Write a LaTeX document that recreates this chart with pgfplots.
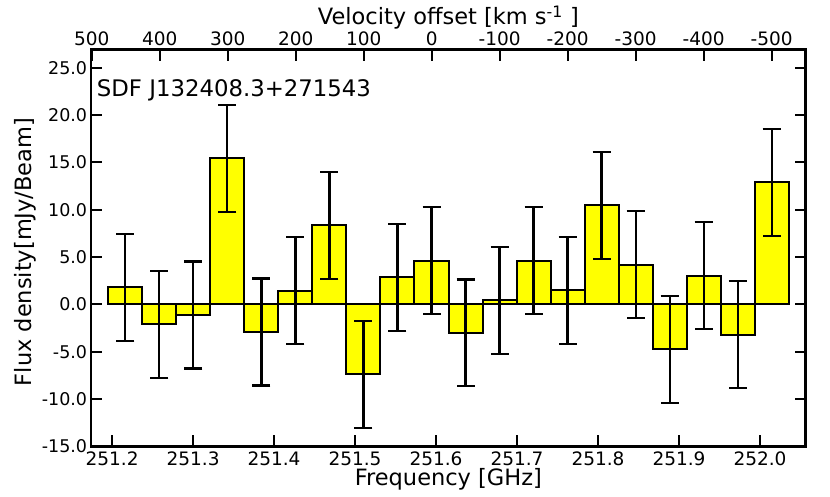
\documentclass[border=0pt]{standalone}
\usepackage{pgfplots}
\pgfplotsset{compat=1.18}
\usepackage{pgfplotstable}
\usepackage{fontspec}
\setmainfont{DejaVu Sans}
\definecolor{pureyellow}{RGB}{255,255,0}

\pgfplotstableread{
x y err
251.2164 1.81 5.65
251.2584 -2.11 5.65
251.3004 -1.12 5.65
251.3424 15.42 5.65
251.3844 -2.92 5.65
251.4264 1.43 5.65
251.4684 8.34 5.65
251.5104 -7.41 5.65
251.5524 2.86 5.65
251.5944 4.62 5.65
251.6364 -3.02 5.65
251.6784 0.44 5.65
251.7204 4.61 5.65
251.7624 1.48 5.65
251.8044 10.45 5.65
251.8464 4.18 5.65
251.8884 -4.76 5.65
251.9304 3.03 5.65
251.9724 -3.20 5.65
252.0144 12.91 5.65
}\fluxdata

\begin{document}
\begin{tikzpicture}
\begin{axis}[
  at={(0,0)}, anchor=south west,
  scale only axis, width=714.7pt, height=396.6pt,
  xmin=251.174, xmax=252.0564, ymin=-15, ymax=26.9,
  axis line style={line width=2.5pt},
  tick align=inside, major tick length=11pt,
  every tick/.style={line width=2.2pt, black},
  xtick={251.2,251.3,251.4,251.5,251.6,251.7,251.8,251.9,252.0},
  ytick={-15,-10,-5,0,5,10,15,20,25},
  xtick pos=left, ytick pos=both, yticklabel pos=left,
  scaled x ticks=false, scaled y ticks=false,
  /pgf/number format/assume math mode=true,
  xticklabel style={font=\fontsize{18.5}{21}\selectfont, inner sep=0pt, anchor=north, yshift=-5pt,
    /pgf/number format/.cd, fixed, fixed zerofill, precision=1, use period, 1000 sep={}},
  yticklabel style={font=\fontsize{17.5}{20}\selectfont, inner sep=0pt, anchor=east, xshift=-3.7pt,
    /pgf/number format/.cd, fixed, fixed zerofill, precision=1},
  xlabel={Frequency [GHz]},
  xlabel style={font=\fontsize{22.5}{26}\selectfont, at={(axis description cs:0.5,0)}, anchor=base, yshift=-38.7pt, inner sep=0pt},
  ylabel={Flux density[mJy/Beam]},
  ylabel style={font=\fontsize{22.5}{26}\selectfont, at={(axis description cs:-0.083,0.49)}, anchor=base, inner sep=0pt},
]
\addplot[ybar, bar width=0.042, bar shift=0pt, fill=pureyellow, draw=black, line width=2pt,
  error bars/.cd, y dir=both, y explicit,
  error bar style={line width=2.2pt, black},
  error mark options={rotate=90, line width=2.2pt, mark size=9pt, black}]
  table[x=x, y=y, y error=err] {\fluxdata};
\node[anchor=base west, inner sep=0pt, font=\fontsize{22.8}{26}\selectfont] at (rel axis cs:0.008,0.8825) {SDF J132408.3+271543};
\end{axis}
\begin{axis}[
  at={(0,0)}, anchor=south west,
  scale only axis, width=714.7pt, height=396.6pt,
  xmin=-550, xmax=501, x dir=reverse, ymin=0, ymax=1,
  hide y axis,
  axis line style={line width=2.5pt},
  tick align=inside, major tick length=11pt,
  every tick/.style={line width=2.2pt, black},
  xtick={-500,-400,-300,-200,-100,0,100,200,300,400,500},
  xtick pos=right, xticklabel pos=right,
  /pgf/number format/assume math mode=true,
  xticklabel style={font=\fontsize{18.5}{21}\selectfont, inner sep=0pt, anchor=south, yshift=3.4pt},
  xlabel={Velocity offset [km s\textsuperscript{-1} ]},
  xlabel style={font=\fontsize{22.5}{26}\selectfont, at={(axis description cs:0.5,1)}, anchor=base, yshift=25pt, inner sep=0pt},
]
\addplot[draw=none] coordinates {(0,0.5)};
\end{axis}
\pgfresetboundingbox
\path[use as bounding box] (-91pt,-49.7pt) rectangle (739pt,446.3pt);
\end{tikzpicture}
\end{document}
